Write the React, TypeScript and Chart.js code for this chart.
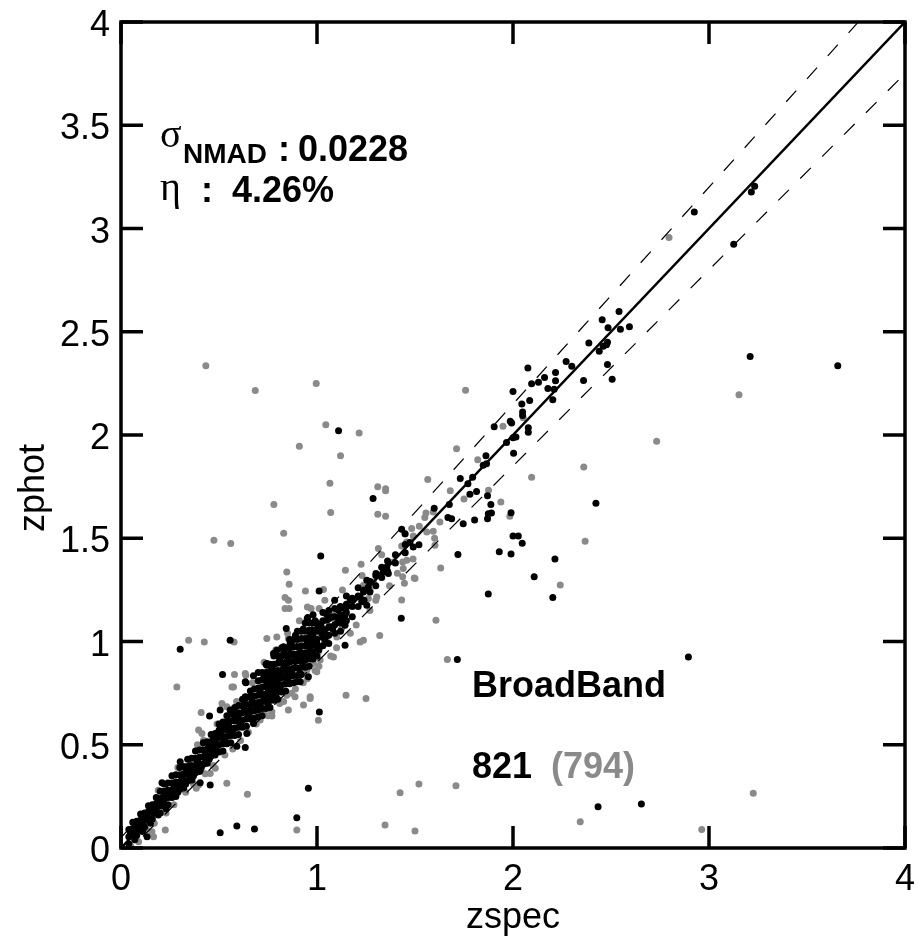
import { useEffect, useRef } from 'react';
import { Chart, registerables } from 'chart.js';

Chart.register(...registerables);

type Pt = [number, number];

// Axis ticks
const xTickValues = [0, 1, 2, 3, 4];
const xTickLabels = ['0', '1', '2', '3', '4'];
const yTickValues = [0, 0.5, 1, 1.5, 2, 2.5, 3, 3.5, 4];
const yTickLabels = ['0', '0.5', '1', '1.5', '2', '2.5', '3', '3.5', '4'];

// Outlier limit |zphot - zspec| / (1 + zspec)
const dzTolerance = 0.05;

// Summary statistics
const sigmaNMAD = '0.0228';
const outlierRate = '4.26%';
const sampleName = 'BroadBand';
const countBlack = '821';
const countGray = '(794)';

// Black sample: dense core along the one-to-one relation
const bandBlack: Pt[] = [
  [0.04, 0.02], [0.04, 0.055], [0.04, 0.09],
  [0.06, 0.06], [0.06, 0.095], [0.06, 0.125],
  [0.08, 0.06], [0.08, 0.095], [0.08, 0.13],
  [0.10, 0.10], [0.10, 0.135], [0.10, 0.165],
  [0.12, 0.10], [0.12, 0.135], [0.12, 0.17],
  [0.14, 0.14], [0.14, 0.175], [0.14, 0.205],
  [0.16, 0.14], [0.16, 0.175], [0.16, 0.21],
  [0.18, 0.18], [0.18, 0.215], [0.18, 0.245],
  [0.20, 0.17], [0.20, 0.205], [0.20, 0.24], [0.20, 0.275],
  [0.22, 0.205], [0.22, 0.24], [0.22, 0.275], [0.22, 0.31],
  [0.24, 0.21], [0.24, 0.245], [0.24, 0.28], [0.24, 0.315],
  [0.26, 0.245], [0.26, 0.28], [0.26, 0.315], [0.26, 0.35],
  [0.28, 0.25], [0.28, 0.285], [0.28, 0.32], [0.28, 0.355],
  [0.30, 0.285], [0.30, 0.32], [0.30, 0.355], [0.30, 0.39],
  [0.32, 0.29], [0.32, 0.325], [0.32, 0.36], [0.32, 0.395],
  [0.34, 0.325], [0.34, 0.36], [0.34, 0.395], [0.34, 0.43],
  [0.36, 0.33], [0.36, 0.365], [0.36, 0.40], [0.36, 0.435],
  [0.38, 0.365], [0.38, 0.40], [0.38, 0.435], [0.38, 0.47],
  [0.40, 0.37], [0.40, 0.405], [0.40, 0.44], [0.40, 0.475],
  [0.42, 0.405], [0.42, 0.44], [0.42, 0.475], [0.42, 0.51],
  [0.44, 0.41], [0.44, 0.445], [0.44, 0.48], [0.44, 0.515],
  [0.46, 0.445], [0.46, 0.48], [0.46, 0.515], [0.46, 0.55],
  [0.48, 0.45], [0.48, 0.485], [0.48, 0.52], [0.48, 0.555],
  [0.50, 0.465], [0.50, 0.50], [0.50, 0.535], [0.50, 0.57], [0.50, 0.60],
  [0.52, 0.47], [0.52, 0.505], [0.52, 0.54], [0.52, 0.575], [0.52, 0.61],
  [0.54, 0.505], [0.54, 0.54], [0.54, 0.575], [0.54, 0.61], [0.54, 0.64],
  [0.56, 0.51], [0.56, 0.545], [0.56, 0.58], [0.56, 0.615], [0.56, 0.65],
  [0.58, 0.545], [0.58, 0.58], [0.58, 0.615], [0.58, 0.65], [0.58, 0.68],
  [0.60, 0.55], [0.60, 0.585], [0.60, 0.62], [0.60, 0.655], [0.60, 0.69],
  [0.62, 0.585], [0.62, 0.62], [0.62, 0.655], [0.62, 0.69], [0.62, 0.72],
  [0.64, 0.59], [0.64, 0.625], [0.64, 0.66], [0.64, 0.695], [0.64, 0.73],
  [0.66, 0.625], [0.66, 0.66], [0.66, 0.695], [0.66, 0.73], [0.66, 0.76],
  [0.68, 0.63], [0.68, 0.665], [0.68, 0.70], [0.68, 0.735], [0.68, 0.77],
  [0.70, 0.635], [0.70, 0.67], [0.70, 0.705], [0.70, 0.74], [0.70, 0.775], [0.70, 0.81], [0.70, 0.85],
  [0.72, 0.64], [0.72, 0.675], [0.72, 0.71], [0.72, 0.745], [0.72, 0.78], [0.72, 0.815], [0.72, 0.85],
  [0.74, 0.675], [0.74, 0.71], [0.74, 0.745], [0.74, 0.78], [0.74, 0.815], [0.74, 0.85], [0.74, 0.89],
  [0.76, 0.68], [0.76, 0.715], [0.76, 0.75], [0.76, 0.785], [0.76, 0.82], [0.76, 0.855], [0.76, 0.89],
  [0.78, 0.715], [0.78, 0.75], [0.78, 0.785], [0.78, 0.82], [0.78, 0.855], [0.78, 0.89], [0.78, 0.93],
  [0.80, 0.72], [0.80, 0.755], [0.80, 0.79], [0.80, 0.825], [0.80, 0.86], [0.80, 0.895], [0.80, 0.93],
  [0.82, 0.755], [0.82, 0.79], [0.82, 0.825], [0.82, 0.86], [0.82, 0.895], [0.82, 0.93], [0.82, 0.97],
  [0.84, 0.76], [0.84, 0.795], [0.84, 0.83], [0.84, 0.865], [0.84, 0.90], [0.84, 0.935], [0.84, 0.97],
  [0.86, 0.795], [0.86, 0.83], [0.86, 0.865], [0.86, 0.90], [0.86, 0.935], [0.86, 0.97], [0.86, 1.01],
  [0.88, 0.80], [0.88, 0.835], [0.88, 0.87], [0.88, 0.905], [0.88, 0.94], [0.88, 0.975], [0.88, 1.01],
  [0.90, 0.835], [0.90, 0.87], [0.90, 0.905], [0.90, 0.94], [0.90, 0.975], [0.90, 1.01], [0.90, 1.05],
  [0.92, 0.84], [0.92, 0.875], [0.92, 0.91], [0.92, 0.945], [0.92, 0.98], [0.92, 1.015], [0.92, 1.05],
  [0.94, 0.875], [0.94, 0.91], [0.94, 0.945], [0.94, 0.98], [0.94, 1.015], [0.94, 1.05], [0.94, 1.09],
  [0.96, 0.88], [0.96, 0.915], [0.96, 0.95], [0.96, 0.985], [0.96, 1.02], [0.96, 1.055], [0.96, 1.09],
  [0.98, 0.915], [0.98, 0.95], [0.98, 0.985], [0.98, 1.02], [0.98, 1.055], [0.98, 1.09], [0.98, 1.13],
  [1.00, 0.93], [1.00, 0.97], [1.00, 1.01], [1.00, 1.05], [1.00, 1.09],
  [1.03, 0.98], [1.03, 1.02], [1.03, 1.06], [1.03, 1.10], [1.03, 1.14],
  [1.06, 0.99], [1.06, 1.03], [1.06, 1.07], [1.06, 1.11], [1.06, 1.15],
  [1.09, 1.04], [1.09, 1.08], [1.09, 1.12], [1.09, 1.16], [1.09, 1.20],
  [1.12, 1.05], [1.12, 1.09], [1.12, 1.13], [1.12, 1.17],
  [1.15, 1.10], [1.15, 1.14], [1.15, 1.18], [1.15, 1.22],
  [1.18, 1.12], [1.18, 1.17], [1.18, 1.21],
  [1.21, 1.17], [1.21, 1.22], [1.21, 1.26],
  [1.24, 1.20], [1.24, 1.25], [1.27, 1.24], [1.27, 1.29],
  [1.30, 1.27], [1.30, 1.32], [1.33, 1.31], [1.33, 1.36],
  [1.36, 1.34], [1.36, 1.39], [1.40, 1.38], [1.40, 1.42],
  [1.45, 1.43], [1.45, 1.47],
];

// Black sample: further core objects lying between the rows above
const bandBlackFill: Pt[] = [
  [0.05, 0.07], [0.07, 0.04], [0.09, 0.115], [0.11, 0.08], [0.13, 0.155], [0.15, 0.12],
  [0.17, 0.195], [0.19, 0.16], [0.21, 0.225], [0.23, 0.19], [0.25, 0.26], [0.27, 0.30],
  [0.29, 0.27], [0.31, 0.34], [0.33, 0.31], [0.35, 0.38], [0.37, 0.35], [0.39, 0.42],
  [0.41, 0.39], [0.43, 0.46], [0.45, 0.43], [0.47, 0.50], [0.49, 0.47], [0.51, 0.55],
  [0.53, 0.52], [0.55, 0.59], [0.57, 0.56], [0.59, 0.63], [0.61, 0.60], [0.63, 0.67],
  [0.65, 0.64], [0.67, 0.71], [0.69, 0.67], [0.71, 0.76], [0.71, 0.69], [0.73, 0.73],
  [0.73, 0.83], [0.75, 0.77], [0.75, 0.70], [0.77, 0.80], [0.77, 0.87], [0.79, 0.74],
  [0.79, 0.84], [0.81, 0.91], [0.81, 0.78], [0.83, 0.87], [0.83, 0.95], [0.85, 0.81],
  [0.85, 0.91], [0.87, 0.98], [0.87, 0.85], [0.89, 0.93], [0.89, 1.03], [0.91, 0.87],
  [0.91, 0.97], [0.93, 1.06], [0.93, 0.90], [0.95, 1.00], [0.95, 1.11], [0.97, 0.93],
  [0.97, 1.04], [0.99, 1.10], [1.01, 0.96], [1.02, 1.08], [1.04, 1.01], [1.05, 1.13],
  [1.08, 1.06], [1.11, 1.11], [1.14, 1.16], [1.17, 1.20],
];

// Black sample: individually placed objects
const scatterBlack: Pt[] = [
  [0.047, 0.079], [0.064, 0.071], [0.073, 0.103], [0.098, 0.087], [0.098, 0.127], [0.115, 0.111],
  [0.133, 0.055], [0.133, 0.151], [0.149, 0.184], [0.166, 0.168], [0.166, 0.200], [0.200, 0.216],
  [0.209, 0.316], [0.217, 0.232], [0.217, 0.248], [0.251, 0.248], [0.268, 0.281], [0.294, 0.297],
  [0.302, 0.418], [0.302, 0.963], [0.319, 0.329], [0.336, 0.377], [0.362, 0.329], [0.370, 0.369],
  [0.387, 0.426], [0.404, 0.316], [0.404, 0.377], [0.421, 0.442], [0.430, 0.410], [0.447, 0.507],
  [0.452, 0.639], [0.455, 0.305], [0.464, 0.458], [0.472, 0.538], [0.506, 0.074], [0.506, 0.571],
  [0.506, 0.668], [0.518, 0.840], [0.523, 0.603], [0.540, 0.571], [0.557, 0.668], [0.557, 1.006],
  [0.574, 0.619], [0.591, 0.106], [0.591, 0.493], [0.599, 0.643], [0.625, 0.684], [0.634, 0.487],
  [0.634, 0.724], [0.634, 0.732], [0.634, 0.805], [0.637, 0.800], [0.642, 0.555], [0.659, 0.668],
  [0.676, 0.603], [0.676, 0.834], [0.681, 0.092], [0.744, 0.797], [0.744, 0.885], [0.744, 0.894],
  [0.761, 0.740], [0.761, 0.829], [0.778, 0.942], [0.787, 0.764], [0.795, 0.813], [0.795, 0.958],
  [0.812, 0.845], [0.829, 0.861], [0.829, 0.974], [0.843, 1.063], [0.846, 0.894], [0.863, 0.942],
  [0.863, 0.990], [0.880, 0.974], [0.897, 0.147], [0.897, 0.805], [0.905, 0.910], [0.914, 0.805],
  [0.914, 0.845], [0.931, 0.925], [0.948, 0.942], [0.953, 1.116], [0.956, 0.289], [0.956, 0.829],
  [0.965, 0.974], [0.982, 1.006], [0.982, 1.046], [0.999, 0.990], [1.004, 1.079], [1.011, 1.245],
  [1.012, 0.659], [1.016, 1.063], [1.016, 1.079], [1.019, 1.414], [1.024, 1.039], [1.033, 1.055],
  [1.050, 1.103], [1.067, 1.071], [1.076, 1.119], [1.109, 1.151], [1.110, 2.020], [1.118, 1.167],
  [1.135, 1.103], [1.143, 0.982], [1.143, 1.079], [1.143, 1.127], [1.220, 1.216], [1.228, 1.192],
  [1.237, 1.240], [1.254, 1.176], [1.254, 1.297], [1.262, 1.264], [1.286, 1.693], [1.301, 1.329],
  [1.308, 1.323], [1.338, 1.337], [1.347, 1.345], [1.356, 1.361], [1.364, 1.329], [1.430, 1.113],
  [1.432, 1.543], [1.449, 1.522], [1.474, 1.479], [1.491, 1.458], [1.520, 1.469], [1.598, 1.645],
  [1.668, 1.601], [1.675, 1.664], [1.687, 1.595], [1.716, 0.913], [1.719, 1.421], [1.731, 1.789],
  [1.746, 1.570], [1.770, 1.764], [1.780, 1.713], [1.794, 1.796], [1.804, 1.588], [1.814, 1.726],
  [1.848, 1.853], [1.862, 1.900], [1.865, 1.861], [1.870, 1.595], [1.870, 1.706], [1.874, 1.230],
  [1.874, 1.619], [1.887, 1.664], [1.890, 1.622], [1.904, 2.040], [1.930, 1.435], [1.967, 1.964],
  [1.986, 2.067], [1.990, 1.424], [1.990, 1.624], [1.993, 2.058], [2.000, 1.511], [2.000, 1.987],
  [2.000, 2.211], [2.003, 1.912], [2.015, 1.990], [2.027, 1.511], [2.045, 2.150], [2.047, 1.476],
  [2.049, 2.095], [2.049, 2.111], [2.076, 2.324], [2.078, 2.013], [2.078, 2.035], [2.085, 2.167],
  [2.095, 2.248], [2.108, 1.313], [2.130, 2.256], [2.161, 2.279], [2.178, 2.225], [2.203, 1.213],
  [2.203, 2.171], [2.210, 2.222], [2.214, 1.400], [2.217, 2.263], [2.217, 2.303], [2.271, 2.356],
  [2.300, 2.333], [2.360, 2.264], [2.387, 2.445], [2.423, 1.669], [2.434, 0.200], [2.440, 2.406],
  [2.455, 2.558], [2.460, 2.430], [2.477, 2.437], [2.482, 2.342], [2.482, 2.449], [2.485, 2.519],
  [2.506, 2.270], [2.541, 2.598], [2.548, 2.512], [2.594, 2.524], [2.655, 0.213], [2.895, 0.925],
  [2.925, 3.080], [3.126, 2.924], [3.210, 2.380], [3.216, 3.177], [3.233, 3.204], [3.657, 2.335],
];

// Gray sample: spread around the core
const bandGray: Pt[] = [
  [0.05, 0.01], [0.09, 0.03], [0.13, 0.09], [0.17, 0.12], [0.19, 0.28], [0.23, 0.17],
  [0.27, 0.21], [0.29, 0.39], [0.33, 0.27], [0.37, 0.31], [0.39, 0.50], [0.43, 0.36],
  [0.47, 0.40], [0.49, 0.60], [0.53, 0.45], [0.57, 0.48], [0.59, 0.71], [0.61, 0.52],
  [0.65, 0.56], [0.67, 0.80], [0.69, 0.60], [0.71, 0.62], [0.73, 0.90], [0.75, 0.64],
  [0.77, 0.66], [0.79, 0.96], [0.81, 0.70], [0.83, 0.71], [0.85, 1.04], [0.87, 0.75],
  [0.89, 0.77], [0.91, 1.10], [0.93, 0.80], [0.95, 0.82], [0.97, 1.16], [0.99, 0.86],
  [1.01, 0.88], [1.04, 1.20], [1.07, 0.93], [1.10, 0.97], [1.13, 1.25], [1.17, 1.04],
  [1.20, 1.08], [1.23, 1.32], [1.27, 1.15], [1.30, 1.20], [1.33, 1.42], [1.37, 1.27],
  [1.41, 1.33], [1.45, 1.52], [1.49, 1.40], [1.55, 1.60], [1.60, 1.50], [1.68, 1.73],
  [1.75, 1.69], [1.82, 1.88],
];

// Gray sample: individually placed objects
const scatterGray: Pt[] = [
  [0.073, 0.055], [0.158, 0.079], [0.166, 0.055], [0.217, 0.200], [0.226, 0.087], [0.226, 0.248],
  [0.285, 0.780], [0.311, 0.345], [0.345, 1.006], [0.384, 0.289], [0.396, 0.305], [0.396, 0.571],
  [0.404, 0.490], [0.409, 0.656], [0.413, 0.555], [0.421, 0.522], [0.425, 0.998], [0.433, 2.335],
  [0.455, 0.361], [0.472, 0.490], [0.474, 1.490], [0.481, 0.386], [0.506, 0.522], [0.515, 0.700],
  [0.540, 0.313], [0.540, 0.684], [0.560, 1.475], [0.566, 0.780], [0.574, 0.780], [0.577, 0.998],
  [0.579, 0.840], [0.634, 0.845], [0.637, 0.836], [0.645, 0.260], [0.685, 2.216], [0.727, 0.652],
  [0.744, 1.015], [0.770, 0.639], [0.780, 1.664], [0.783, 0.945], [0.795, 1.022], [0.812, 0.925],
  [0.830, 1.524], [0.837, 1.160], [0.837, 1.213], [0.846, 0.740], [0.846, 1.337], [0.854, 0.668],
  [0.854, 1.015], [0.854, 1.200], [0.858, 1.160], [0.858, 1.277], [0.872, 1.006], [0.888, 0.732],
  [0.897, 0.087], [0.910, 1.945], [0.922, 0.925], [0.931, 0.692], [0.941, 1.245], [0.948, 0.861],
  [0.951, 1.167], [0.965, 0.724], [0.965, 0.732], [0.982, 0.894], [0.996, 2.250], [0.999, 0.853],
  [0.999, 1.015], [1.007, 0.619], [1.007, 0.950], [1.011, 1.160], [1.016, 0.910], [1.033, 1.252],
  [1.036, 0.990], [1.045, 2.050], [1.050, 1.022], [1.066, 1.766], [1.070, 1.625], [1.084, 0.925],
  [1.084, 1.127], [1.092, 1.103], [1.101, 1.022], [1.120, 1.900], [1.126, 1.063], [1.145, 1.345],
  [1.148, 0.740], [1.215, 2.010], [1.220, 0.998], [1.225, 1.374], [1.237, 1.006], [1.237, 1.272],
  [1.250, 0.724], [1.262, 1.208], [1.271, 1.248], [1.288, 1.288], [1.305, 1.216], [1.310, 1.616],
  [1.310, 1.750], [1.313, 1.450], [1.320, 1.029], [1.347, 0.111], [1.350, 1.606], [1.350, 1.730],
  [1.350, 1.740], [1.390, 1.385], [1.424, 0.268], [1.432, 1.201], [1.432, 1.463], [1.437, 1.313],
  [1.437, 1.385], [1.440, 1.353], [1.446, 1.282], [1.458, 1.393], [1.458, 1.482], [1.483, 1.547],
  [1.491, 1.511], [1.496, 1.308], [1.500, 0.082], [1.500, 1.305], [1.520, 0.310], [1.522, 1.558],
  [1.556, 1.622], [1.560, 1.530], [1.565, 1.784], [1.593, 1.534], [1.593, 1.627], [1.602, 1.466],
  [1.607, 1.103], [1.627, 1.579], [1.631, 1.356], [1.665, 0.913], [1.709, 0.301], [1.712, 1.934],
  [1.758, 2.217], [1.875, 1.732], [1.938, 1.675], [1.949, 2.042], [1.984, 1.606], [2.052, 2.084],
  [2.095, 1.795], [2.241, 1.274], [2.343, 0.127], [2.361, 1.845], [2.368, 1.485], [2.733, 1.970],
  [2.796, 2.957], [2.963, 0.090], [3.153, 2.195], [3.226, 0.265],
];

const SANS = '"Liberation Sans", Arial, Helvetica, sans-serif';
const SERIF = '"Liberation Serif", "Times New Roman", serif';
const GRAY = '#8a8a8a';
const TICK_LEN = 22;
const WIDTH = 918;
const HEIGHT = 940;

const toXY = (pts: Pt[]) => pts.map(([x, y]) => ({ x, y }));

// Frame with inward ticks on all four sides, tick labels, axis titles and statistics
const framePlugin = {
  id: 'frameAndText',
  afterDatasetsDraw(chart: any) {
    const { ctx, chartArea: a, scales } = chart;
    const xs = scales.x;
    const ys = scales.y;
    ctx.save();
    ctx.strokeStyle = '#000';
    ctx.lineWidth = 3.5;
    ctx.lineJoin = 'miter';
    ctx.lineCap = 'butt';
    ctx.strokeRect(a.left, a.top, a.right - a.left, a.bottom - a.top);

    ctx.beginPath();
    xTickValues.forEach((v) => {
      const px = xs.getPixelForValue(v);
      ctx.moveTo(px, a.bottom);
      ctx.lineTo(px, a.bottom - TICK_LEN);
      ctx.moveTo(px, a.top);
      ctx.lineTo(px, a.top + TICK_LEN);
    });
    yTickValues.forEach((v) => {
      const py = ys.getPixelForValue(v);
      ctx.moveTo(a.left, py);
      ctx.lineTo(a.left + TICK_LEN, py);
      ctx.moveTo(a.right, py);
      ctx.lineTo(a.right - TICK_LEN, py);
    });
    ctx.stroke();

    ctx.fillStyle = '#000';
    ctx.font = `36px ${SANS}`;
    ctx.textBaseline = 'alphabetic';
    ctx.textAlign = 'center';
    xTickValues.forEach((v, i) => {
      ctx.fillText(xTickLabels[i], xs.getPixelForValue(v), a.bottom + 42);
    });
    ctx.textAlign = 'right';
    yTickValues.forEach((v, i) => {
      ctx.fillText(yTickLabels[i], a.left - 11, ys.getPixelForValue(v) + 14);
    });

    // axis titles
    ctx.textAlign = 'center';
    ctx.fillText('zspec', (a.left + a.right) / 2, a.bottom + 80);
    ctx.save();
    ctx.translate(a.left - 77, a.top + 466);
    ctx.rotate(-Math.PI / 2);
    ctx.fillText('zphot', 0, 0);
    ctx.restore();

    // statistics
    ctx.textAlign = 'left';
    ctx.font = `40px ${SERIF}`;
    ctx.fillText('σ', a.left + 39, a.top + 125);
    ctx.font = `bold 28px ${SANS}`;
    ctx.fillText('NMAD', a.left + 62, a.top + 141);
    ctx.font = `bold 36px ${SANS}`;
    ctx.fillText(':', a.left + 157, a.top + 139);
    ctx.fillText(sigmaNMAD, a.left + 177, a.top + 139);
    ctx.font = `40px ${SERIF}`;
    ctx.fillText('η', a.left + 39, a.top + 178);
    ctx.font = `bold 36px ${SANS}`;
    ctx.fillText(':', a.left + 80, a.top + 180);
    ctx.fillText(outlierRate, a.left + 111, a.top + 180);

    ctx.fillText(sampleName, a.left + 351, a.top + 675);
    ctx.fillText(countBlack, a.left + 351, a.top + 756);
    ctx.fillStyle = GRAY;
    ctx.fillText(countGray, a.left + 430, a.top + 756);
    ctx.restore();
  },
};

export default function App() {
  const canvasRef = useRef<HTMLCanvasElement | null>(null);

  useEffect(() => {
    const canvas = canvasRef.current;
    if (!canvas) return;
    const upper = [0, 4].map((x) => ({ x, y: x + dzTolerance * (1 + x) }));
    const lower = [0, 4].map((x) => ({ x, y: x - dzTolerance * (1 + x) }));
    const chart = new Chart(canvas, {
      type: 'scatter',
      data: {
        datasets: [
          {
            data: [{ x: 0, y: 0 }, { x: 4, y: 4 }],
            showLine: true,
            borderColor: '#000',
            borderWidth: 2.5,
            pointRadius: 0,
          },
          {
            data: upper,
            showLine: true,
            borderColor: '#000',
            borderWidth: 1.2,
            borderDash: [15, 16],
            pointRadius: 0,
          },
          {
            data: lower,
            showLine: true,
            borderColor: '#000',
            borderWidth: 1.2,
            borderDash: [15, 16],
            pointRadius: 0,
          },
          {
            data: toXY([...bandBlack, ...bandBlackFill, ...scatterBlack]),
            backgroundColor: '#000',
            borderWidth: 0,
            pointRadius: 3.5,
          },
          {
            data: toXY([...bandGray, ...scatterGray]),
            backgroundColor: GRAY,
            borderWidth: 0,
            pointRadius: 3.5,
          },
        ],
      } as any,
      options: {
        animation: false,
        responsive: false,
        events: [],
        layout: { padding: { left: 121, right: 13, top: 22, bottom: 92 } },
        scales: {
          x: { type: 'linear', min: 0, max: 4, display: false },
          y: { type: 'linear', min: 0, max: 4, display: false },
        },
        plugins: {
          legend: { display: false },
          tooltip: { enabled: false },
        },
      },
      plugins: [framePlugin],
    });
    return () => chart.destroy();
  }, []);

  return (
    <div style={{ position: 'absolute', left: 0, top: 0, width: WIDTH, height: HEIGHT }}>
      <canvas ref={canvasRef} width={WIDTH} height={HEIGHT} style={{ display: 'block' }} />
    </div>
  );
}
